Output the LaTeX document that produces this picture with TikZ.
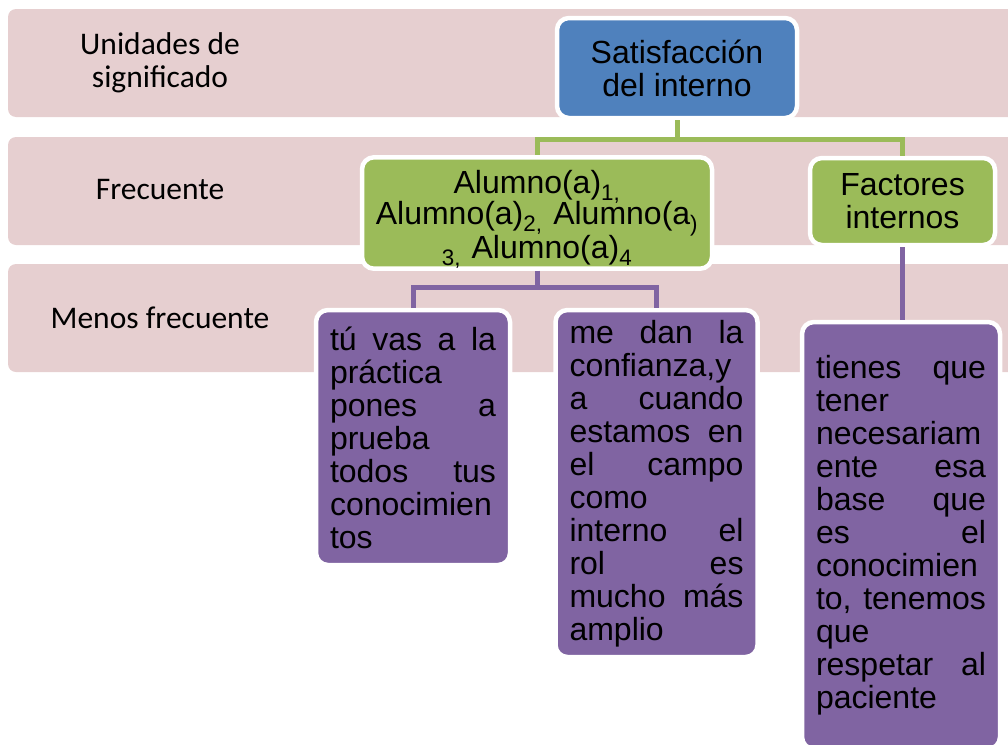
\documentclass[tikz,border=0pt]{standalone}
\usepackage{fontspec}
\setmainfont{Liberation Sans}
\newfontfamily\rowfont{Carlito}
\newcommand\tightlines{\lineskiplimit=-20pt\relax}
\definecolor{rowpink}{HTML}{E6CFD0}
\definecolor{satblue}{HTML}{4F81BD}
\definecolor{frecgreen}{HTML}{9BBB59}
\definecolor{menpurple}{HTML}{8064A2}

\begin{document}
\begin{tikzpicture}[yscale=-1, x=1pt, y=1pt,
	box/.style={draw=white, line width=4.5pt, rounded corners=12pt, inner xsep=14pt, inner ysep=0pt,
		font=\fontsize{32}{33}\selectfont},
	bluebox/.style={box, fill=satblue, align=center},
	greenbox/.style={box, fill=frecgreen, align=center},
	purplebox/.style={box, fill=menpurple, align=left},
	rowlabel/.style={font=\rowfont\fontsize{31.5}{33}\selectfont, align=center},
	gline/.style={frecgreen, line width=5pt},
	pline/.style={menpurple, line width=5pt}]
	\useasboundingbox (0,0) rectangle (1008,744);
	% rows
	\foreach \row in {9,137,264}
		\fill[rowpink, rounded corners=8pt] (8,\row) rectangle (1030,\row+108);
	\node[rowlabel] (unid) at (160,63) {Unidades de\\significado};
	\node[rowlabel] (frec) at (160,190) {Frecuente};
	\node[rowlabel] (menos) at (160,318) {Menos frecuente};
	% boxes
	\node[bluebox, minimum width=240pt, minimum height=100pt] (sat) at (677,68) {Satisfacción\\del interno};
	\node[greenbox, inner xsep=4pt, text width=342pt, minimum height=110pt] (alum) at (537,213)
		{\tightlines\rule{0pt}{36pt}Alumno(a)\textsubscript{1,}\\[-2pt]Alumno(a)\textsubscript{2,} Alumno(a\textsubscript{)}\\[-2pt]\textsubscript{3,} Alumno(a)\textsubscript{4}};
	\node[greenbox, text width=157pt, minimum height=87pt] (fact) at (902.5,201.5) {Factores\\internos};
	\node[purplebox, text width=166pt, minimum height=255pt] (p1) at (413,437.5)
		{tú\hfill vas\hfill a\hfill la\\práctica\\pones\hfill a\\prueba\\todos\hfill tus\\conocimien\\tos};
	\node[purplebox, text width=174pt, minimum height=347pt] (p2) at (656.5,483.5)
		{me\hfill dan\hfill la\\confianza,y\\a\hfill cuando\\estamos\hfill en\\el\hfill campo\\como\\interno\hfill el\\rol\hfill es\\mucho\hfill más\\amplio};
	\node[purplebox, text width=170pt, minimum height=427pt] (p3) at (901,535.5)
		{tienes\hfill que\\tener\\necesariam\\ente\hfill esa\\base\hfill que\\es\hfill el\\conocimien\\to,\hfill tenemos\\que\\respetar\hfill al\\paciente};
	% connectors
	\draw[gline] (sat.south) -- ++(0,19) -| (alum.north);
	\draw[gline] (sat.south) -- ++(0,19) -| (fact.north);
	\draw[pline] (alum.south) -- ++(0,17) -| (p1.north);
	\draw[pline] (alum.south) -- ++(0,17) -| (p2.north);
	\draw[pline] (fact.south) -- (fact.south |- p3.north);
\end{tikzpicture}
\end{document}
